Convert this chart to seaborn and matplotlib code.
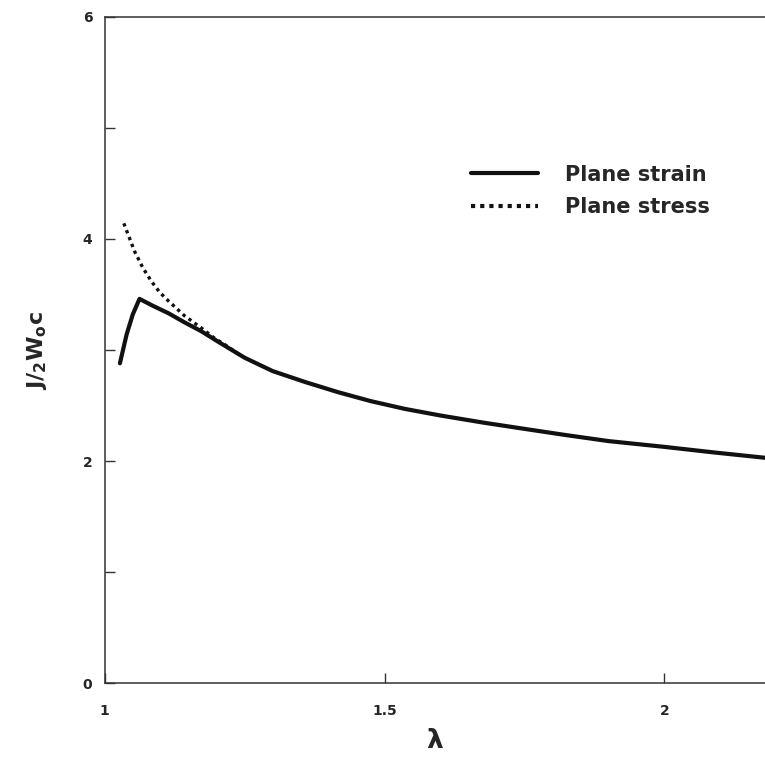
import numpy as np
import matplotlib
matplotlib.use("Agg")
import matplotlib.pyplot as plt
import seaborn as sns
import pandas as pd

# curve values
lam_strain = [1.027, 1.039, 1.050, 1.062, 1.085, 1.114, 1.142, 1.172, 1.204, 1.25,
              1.300, 1.359, 1.417, 1.475, 1.536, 1.60, 1.678, 1.75, 1.82, 1.90, 1.998,
              2.09, 2.185]
j_strain = [2.88, 3.14, 3.32, 3.46, 3.40, 3.33, 3.25, 3.17, 3.07, 2.93,
            2.81, 2.71, 2.62, 2.54, 2.47, 2.41, 2.345, 2.29, 2.237, 2.18, 2.129,
            2.077, 2.027]

lam_stress = [1.034, 1.053, 1.068, 1.083, 1.098, 1.114, 1.142, 1.172, 1.195, 1.220, 1.240]
j_stress = [4.14, 3.89, 3.74, 3.62, 3.52, 3.44, 3.31, 3.20, 3.11, 3.03, 2.96]

labels = ["Plane strain", "Plane stress"]
y_major = [0, 2, 4, 6]
y_minor = [1, 3, 5]
x_ticks = [1, 1.5, 2]
x_ticklabels = ["1", "1.5", "2"]

df = pd.concat([
    pd.DataFrame({"lam": lam_strain, "J": j_strain, "case": labels[0]}),
    pd.DataFrame({"lam": lam_stress, "J": j_stress, "case": labels[1]}),
])

sns.set_style("ticks")
plt.rcParams['font.family'] = ['DejaVu Sans']
plt.rcParams['font.weight'] = 'bold'
plt.rcParams['mathtext.fontset'] = 'dejavusans'

fig = plt.figure(figsize=(7.65, 7.6), dpi=100)
ax = fig.add_axes([0.137, 0.101, 0.863, 0.877])

sns.lineplot(data=df, x="lam", y="J", hue="case", style="case",
             palette={labels[0]: "#111111", labels[1]: "#111111"},
             dashes={labels[0]: "", labels[1]: (1, 1.2)},
             linewidth=3, ax=ax, sort=False)
# thinner dots for the plane stress curve
ax.lines[1].set_linewidth(2.4)
for ln in ax.lines:
    ln.set_solid_joinstyle('round')

ax.set_xlim(1, 2.18)
ax.set_ylim(0, 6)

ax.set_yticks(y_major)
ax.set_yticks(y_minor, minor=True)
ax.set_xticks(x_ticks)
ax.set_xticklabels(x_ticklabels)

ax.tick_params(axis='both', which='both', direction='in', length=7, width=1, color='#333333')
ax.tick_params(axis='y', pad=9, labelsize=10)
ax.tick_params(axis='x', pad=15, labelsize=10)

for side in ['left', 'bottom', 'top']:
    ax.spines[side].set_color('#333333')
    ax.spines[side].set_linewidth(1.1)
ax.spines['right'].set_visible(False)

ax.set_xlabel(r"$\mathbf{\lambda}$", fontsize=19, labelpad=7)
ax.set_ylabel(r"$\mathbf{J/_{2}W_{o}c}$", fontsize=16, labelpad=24)

leg = ax.legend(handles=ax.get_legend().legend_handles, labels=labels,
                loc='upper left', bbox_to_anchor=(0.555, 0.778),
                frameon=False, fontsize=15, handlelength=3.2,
                handletextpad=1.3, labelspacing=0.6, borderpad=0, borderaxespad=0)
for t in leg.get_texts():
    t.set_fontweight('bold')

fig.savefig("out.png", dpi=100)
